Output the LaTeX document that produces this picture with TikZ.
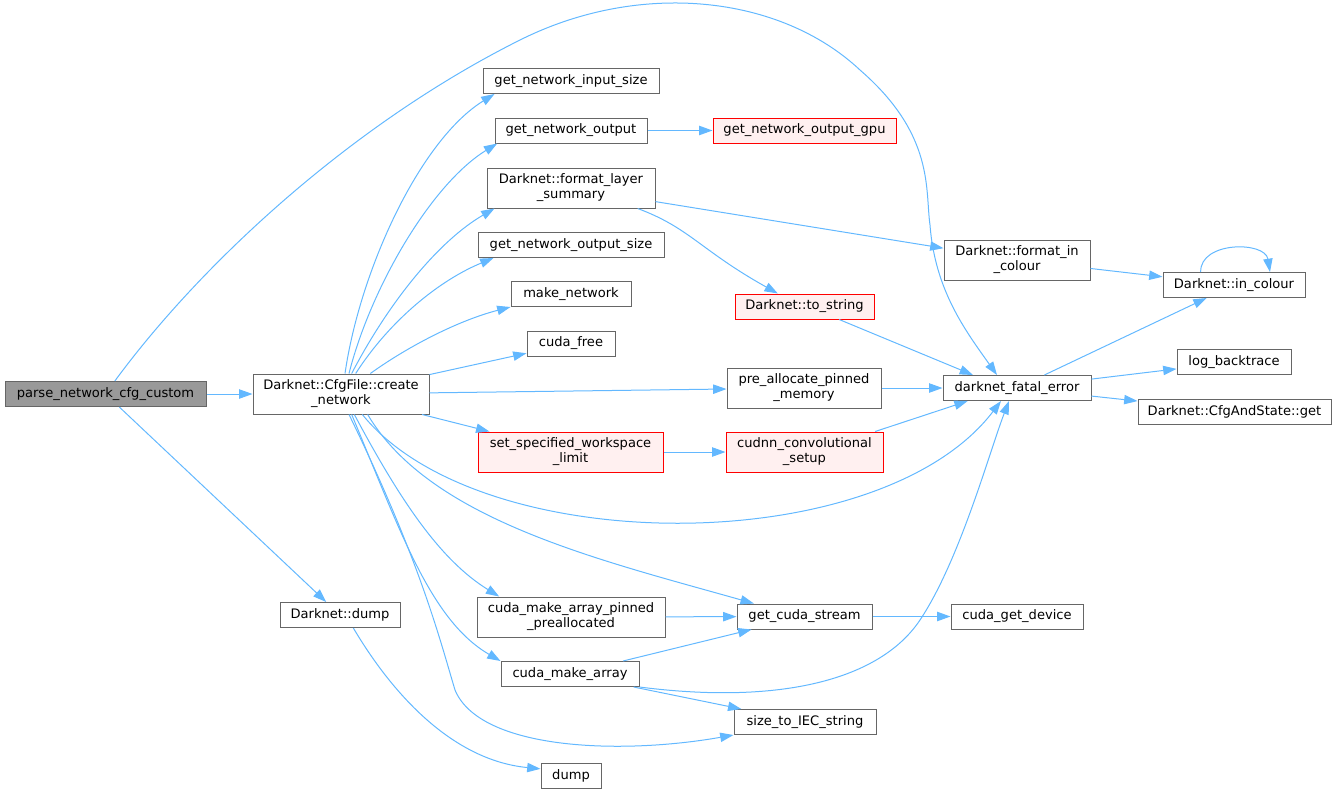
\documentclass[tikz,border=0pt]{standalone}
\usepackage{fontspec}
\setmainfont{DejaVu Sans}
\usetikzlibrary{arrows.meta}
\definecolor{edgeblue}{HTML}{63B8FF}
\definecolor{boxgray}{HTML}{666666}
\definecolor{rootgray}{HTML}{999999}
\definecolor{redfill}{HTML}{FFF0F0}
\tikzset{
  fn/.style={draw=boxgray, fill=white, line width=0.75pt, inner sep=0pt,
    minimum height=18.75pt, align=center, font=\fontsize{9.8}{11.25}\selectfont},
  fntwo/.style={fn, minimum height=30pt},
  fnred/.style={draw=red, fill=redfill},
  fnroot/.style={fill=rootgray},
  call/.style={draw=edgeblue, line width=0.75pt, -{Triangle[length=10pt,width=7pt]}}
}
\begin{document}
\begin{tikzpicture}[x=0.75pt, y=-0.75pt]
\useasboundingbox (0,0) rectangle (1336,794);
\node[fn, fnroot, minimum width=150.75pt] (parse) at (105.5,394) {parse\_network\_cfg\_custom};
\node[fntwo, minimum width=132pt] (create) at (341,394) {Darknet::CfgFile::create\\\_network};
\node[fn, minimum width=132pt] (inputsize) at (571,81) {get\_network\_input\_size};
\node[fn, minimum width=114pt] (output) at (571,130.5) {get\_network\_output};
\node[fn, fnred, minimum width=137.25pt] (outputgpu) at (804.5,130.5) {get\_network\_output\_gpu};
\node[fntwo, minimum width=126pt] (layersum) at (571,188) {Darknet::format\_layer\\\_summary};
\node[fn, minimum width=139.5pt] (outputsize) at (571,245) {get\_network\_output\_size};
\node[fn, minimum width=90pt] (makenet) at (571,294) {make\_network};
\node[fn, minimum width=66pt] (cudafree) at (571,343.5) {cuda\_free};
\node[fn, fnred, minimum width=104.25pt] (tostring) at (804.5,306.5) {Darknet::to\_string};
\node[fntwo, minimum width=115.5pt] (prealloc) at (804,388) {pre\_allocate\_pinned\\\_memory};
\node[fntwo, fnred, minimum width=138.75pt] (setws) at (570.5,452) {set\_specified\_workspace\\\_limit};
\node[fntwo, fnred, minimum width=117.75pt] (cudnn) at (804.5,452) {cudnn\_convolutional\\\_setup};
\node[fntwo, minimum width=109.5pt] (fmtcolour) at (1017,260) {Darknet::format\_in\\\_colour};
\node[fn, minimum width=106.5pt] (incolour) at (1234,285) {Darknet::in\_colour};
\node[fn, minimum width=111pt] (fatal) at (1017,388) {darknet\_fatal\_error};
\node[fn, minimum width=85.5pt] (logbt) at (1234,362) {log\_backtrace};
\node[fn, minimum width=144.75pt] (cfgget) at (1234.5,411.5) {Darknet::CfgAndState::get};
\node[fn, minimum width=90pt] (ddump) at (340,615) {Darknet::dump};
\node[fntwo, minimum width=141pt] (pinned) at (571,617) {cuda\_make\_array\_pinned\\\_preallocated};
\node[fn, minimum width=101.25pt] (stream) at (804.5,616.5) {get\_cuda\_stream};
\node[fn, minimum width=99pt] (device) at (1017,616.5) {cuda\_get\_device};
\node[fn, minimum width=103.5pt] (makearr) at (570,674) {cuda\_make\_array};
\node[fn, minimum width=106.5pt] (iec) at (805,722) {size\_to\_IEC\_string};
\node[fn, minimum width=45pt] (dump) at (571,775.5) {dump};

\draw[call] (parse) -- (create);
\draw[call] ([xshift=7pt]parse.north) .. controls (200,265) and (350,125) .. (520,40)
  .. controls (640,-20) and (780,-5) .. (860,70)
  .. controls (935,135) and (925,190) .. (930,225)
  .. controls (935,290) and (965,330) .. ([xshift=-15pt]fatal.north);
\draw[call] (parse) -- (ddump);
\draw[call] ([xshift=3pt]create.north) .. controls (360,270) and (420,140) .. ([xshift=9pt]inputsize.south west);
\draw[call] ([xshift=6pt]create.north) .. controls (370,290) and (430,185) .. ([xshift=2pt]output.south west);
\draw[call] ([xshift=8pt]create.north) .. controls (390,300) and (440,240) .. ([xshift=6pt]layersum.south west);
\draw[call] ([xshift=11pt]create.north) .. controls (390,320) and (440,280) .. ([xshift=12pt]outputsize.south west);
\draw[call] ([xshift=22pt]create.north) .. controls (410,345) and (460,320) .. (makenet.south west);
\draw[call] (create) -- (cudafree);
\draw[call] (create) -- (prealloc);
\draw[call] (create) -- (setws);
\draw[call] ([xshift=16pt]create.south) .. controls (480,560) and (880,560) .. ([xshift=-12pt]fatal.south);
\draw[call] ([xshift=20pt]create.south) .. controls (430,520) and (600,560) .. ([xshift=13pt]stream.north west);
\draw[call] ([xshift=10pt]create.south) .. controls (400,500) and (440,560) .. ([xshift=17pt]pinned.north west);
\draw[call] ([xshift=8pt]create.south) .. controls (400,530) and (430,620) .. (makearr.north west);
\draw[call] ([xshift=6pt]create.south) .. controls (420,560) and (440,640) .. (455,690)
  .. controls (480,750) and (620,755) .. (iec.south west);
\draw[call] (output) -- (outputgpu);
\draw[call] (layersum) -- (fmtcolour);
\draw[call] ([xshift=50pt]layersum.south) .. controls (690,228) and (700,250) .. ([xshift=-20pt]tostring.north);
\draw[call] ([xshift=26pt]tostring.south) -- ([xshift=-33pt]fatal.north);
\draw[call] (prealloc) -- (fatal);
\draw[call] (setws) -- (cudnn);
\draw[call] ([xshift=53pt]cudnn.north) -- ([xshift=-37pt]fatal.south);
\draw[call] (fmtcolour) -- (incolour);
\draw[call] ([xshift=-25pt]incolour.north) .. controls (1200,241) and (1265,241) .. ([xshift=27pt]incolour.north);
\draw[call] (fatal) -- (incolour);
\draw[call] (fatal) -- (logbt);
\draw[call] (fatal) -- (cfgget);
\draw[call] (pinned) -- (stream);
\draw[call] (stream) -- (device);
\draw[call] (makearr) -- (stream);
\draw[call] (makearr.south east) .. controls (780,705) and (880,680) .. (920,620)
  .. controls (960,560) and (990,450) .. ([xshift=-6pt]fatal.south);
\draw[call] (makearr) -- (iec);
\draw[call] ([xshift=10pt]ddump.south) .. controls (390,690) and (450,760) .. ([yshift=5pt]dump.west);
\end{tikzpicture}
\end{document}
